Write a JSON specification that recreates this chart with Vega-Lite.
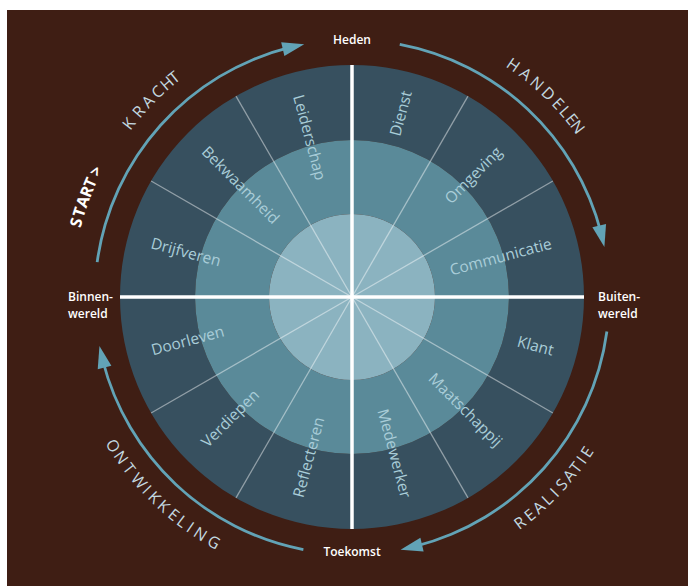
{
  "$schema": "https://vega.github.io/schema/vega-lite/v6.json",
  "width": 688,
  "height": 586,
  "autosize": {"type": "none"},
  "padding": 0,
  "background": "white",
  "config": {"view": {"stroke": null}},
  "resolve": {"scale": {"angle": "independent", "color": "independent"}},
  "layer": [
    {
      "data": {"values": [{"x0": -345, "x1": 336, "y0": -289, "y1": 287}]},
      "mark": {"type": "rect", "color": "#3f1e14"},
      "encoding": {
        "x": {"field": "x0", "type": "quantitative", "scale": {"domain": [-352, 336], "nice": false, "zero": false}, "axis": null},
        "x2": {"field": "x1"},
        "y": {"field": "y0", "type": "quantitative", "scale": {"domain": [-289, 297], "nice": false, "zero": false}, "axis": null},
        "y2": {"field": "y1"}
      }
    },
    {
      "data": {"values": [
        {"ring": "outer", "r0": 157, "r1": 232, "t0": 0, "t1": 360},
        {"ring": "middle", "r0": 83, "r1": 157, "t0": 0, "t1": 360},
        {"ring": "inner", "r0": 0, "r1": 83, "t0": 0, "t1": 360}
      ]},
      "mark": {"type": "arc"},
      "encoding": {
        "x": {"datum": 0, "type": "quantitative"},
        "y": {"datum": 0, "type": "quantitative"},
        "theta": {"field": "t0", "type": "quantitative", "stack": null, "scale": {"type": "linear", "domain": [0, 360], "range": [0, 6.283185307179586]}},
        "theta2": {"field": "t1"},
        "radius": {"field": "r1", "type": "quantitative", "scale": {"type": "linear", "domain": [0, 400], "range": [0, 400], "zero": true, "nice": false}},
        "radius2": {"field": "r0"},
        "color": {"field": "ring", "type": "nominal", "legend": null, "scale": {"domain": ["outer", "middle", "inner"], "range": ["#37505f", "#5a8a99", "#8bb3c0"]}}
      }
    },
    {
      "data": {"values": [
        {"x0": 0, "y0": 0, "x1": 116, "y1": 200.9},
        {"x0": 0, "y0": 0, "x1": 200.9, "y1": 116},
        {"x0": 0, "y0": 0, "x1": 200.9, "y1": -116},
        {"x0": 0, "y0": 0, "x1": 116, "y1": -200.9},
        {"x0": 0, "y0": 0, "x1": -116, "y1": -200.9},
        {"x0": 0, "y0": 0, "x1": -200.9, "y1": -116},
        {"x0": 0, "y0": 0, "x1": -200.9, "y1": 116},
        {"x0": 0, "y0": 0, "x1": -116, "y1": 200.9}
      ]},
      "mark": {"type": "rule", "color": "#ffffff", "opacity": 0.45, "strokeWidth": 1.3},
      "encoding": {
        "x": {"field": "x0", "type": "quantitative"},
        "y": {"field": "y0", "type": "quantitative"},
        "x2": {"field": "x1"},
        "y2": {"field": "y1"}
      }
    },
    {
      "data": {"values": [
        {"x0": 0, "y0": -232, "x1": 0, "y1": 232},
        {"x0": -232, "y0": 0, "x1": 232, "y1": 0}
      ]},
      "mark": {"type": "rule", "color": "#ffffff", "strokeWidth": 3.5},
      "encoding": {
        "x": {"field": "x0", "type": "quantitative"},
        "y": {"field": "y0", "type": "quantitative"},
        "x2": {"field": "x1"},
        "y2": {"field": "y1"}
      }
    },
    {
      "data": {"values": [
        {"t0": 277.8, "t1": 346.0},
        {"t0": 10.7, "t1": 75.5},
        {"t0": 97.7, "t1": 165.8},
        {"t0": 190.9, "t1": 255.7}
      ]},
      "mark": {"type": "arc", "color": "#62a3b6"},
      "encoding": {
        "x": {"datum": 0, "type": "quantitative"},
        "y": {"datum": 0, "type": "quantitative"},
        "theta": {"field": "t0", "type": "quantitative", "stack": null, "scale": {"type": "linear", "domain": [0, 360], "range": [0, 6.283185307179586]}},
        "theta2": {"field": "t1"},
        "radius": {"datum": 258.6, "type": "quantitative"},
        "radius2": {"datum": 255.8}
      }
    },
    {
      "data": {"values": [
        {"x": -58.5, "y": 250.3, "deg": 346.85},
        {"x": 249.8, "y": 60.7, "deg": 76.35},
        {"x": 59.3, "y": -250.1, "deg": 166.65},
        {"x": -250.0, "y": -59.8, "deg": 256.55}
      ]},
      "mark": {"type": "point", "shape": "M1,0L-1,-0.64L-1,0.64Z", "filled": true, "size": 484, "color": "#62a3b6", "opacity": 1, "strokeWidth": 0},
      "encoding": {
        "x": {"field": "x", "type": "quantitative"},
        "y": {"field": "y", "type": "quantitative"},
        "angle": {"field": "deg", "type": "quantitative", "scale": null}
      }
    },
    {
      "data": {"values": [
        {"label": "Dienst", "deg": 15, "r": 190},
        {"label": "Omgeving", "deg": 45, "r": 172},
        {"label": "Communicatie", "deg": 75, "r": 154},
        {"label": "Klant", "deg": 105, "r": 190},
        {"label": "Maatschappij", "deg": 135, "r": 160},
        {"label": "Medewerker", "deg": 165, "r": 162}
      ]},
      "mark": {"type": "text", "font": "Open Sans", "fontSize": 15.5, "color": "#a9cdd8", "align": "center", "baseline": "middle"},
      "encoding": {
        "x": {"datum": 0, "type": "quantitative"},
        "y": {"datum": 0, "type": "quantitative"},
        "theta": {"field": "deg", "type": "quantitative", "scale": {"type": "linear", "domain": [0, 360], "range": [0, 6.283185307179586]}},
        "radius": {"field": "r", "type": "quantitative"},
        "angle": {"field": "deg", "type": "quantitative", "scale": {"domain": [0, 180], "range": [-90, 90]}},
        "text": {"field": "label"}
      }
    },
    {
      "data": {"values": [
        {"label": "Reflecteren", "deg": 195, "r": 166},
        {"label": "Verdiepen", "deg": 225, "r": 172},
        {"label": "Doorleven", "deg": 255, "r": 170},
        {"label": "Drijfveren", "deg": 285, "r": 172},
        {"label": "Bekwaamheid", "deg": 315, "r": 158},
        {"label": "Leiderschap", "deg": 345, "r": 165}
      ]},
      "mark": {"type": "text", "font": "Open Sans", "fontSize": 15.5, "color": "#a9cdd8", "align": "center", "baseline": "middle"},
      "encoding": {
        "x": {"datum": 0, "type": "quantitative"},
        "y": {"datum": 0, "type": "quantitative"},
        "theta": {"field": "deg", "type": "quantitative", "scale": {"type": "linear", "domain": [0, 360], "range": [0, 6.283185307179586]}},
        "radius": {"field": "r", "type": "quantitative"},
        "angle": {"field": "deg", "type": "quantitative", "scale": {"domain": [180, 360], "range": [-90, 90]}},
        "text": {"field": "label"}
      }
    },
    {
      "data": {"values": [
        {"ch": "K", "deg": 307.8}, {"ch": "R", "deg": 311.0}, {"ch": "A", "deg": 313.8},
        {"ch": "C", "deg": 316.5}, {"ch": "H", "deg": 319.1}, {"ch": "T", "deg": 321.0},
        {"ch": "H", "deg": 34.8}, {"ch": "A", "deg": 37.9}, {"ch": "N", "deg": 40.9},
        {"ch": "D", "deg": 44.0}, {"ch": "E", "deg": 46.8}, {"ch": "L", "deg": 49.0},
        {"ch": "E", "deg": 51.0}, {"ch": "N", "deg": 53.0}
      ]},
      "mark": {"type": "text", "font": "Open Sans", "fontSize": 16, "fontWeight": 500, "color": "#c3d9e0", "align": "center", "baseline": "middle"},
      "encoding": {
        "x": {"datum": 0, "type": "quantitative"},
        "y": {"datum": 0, "type": "quantitative"},
        "theta": {"field": "deg", "type": "quantitative", "scale": {"type": "linear", "domain": [0, 360], "range": [0, 6.283185307179586]}},
        "radius": {"datum": 282, "type": "quantitative"},
        "angle": {"field": "deg", "type": "quantitative", "scale": {"domain": [0, 360], "range": [0, 360]}},
        "text": {"field": "ch"}
      }
    },
    {
      "data": {"values": [
        {"ch": "S", "deg": 285.1}, {"ch": "T", "deg": 287.3}, {"ch": "A", "deg": 289.5},
        {"ch": "R", "deg": 291.7}, {"ch": "T", "deg": 293.6}, {"ch": ">", "deg": 296.2}
      ]},
      "mark": {"type": "text", "font": "Open Sans", "fontSize": 16, "fontWeight": "bold", "color": "#ffffff", "align": "center", "baseline": "middle"},
      "encoding": {
        "x": {"datum": 0, "type": "quantitative"},
        "y": {"datum": 0, "type": "quantitative"},
        "theta": {"field": "deg", "type": "quantitative", "scale": {"type": "linear", "domain": [0, 360], "range": [0, 6.283185307179586]}},
        "radius": {"datum": 285, "type": "quantitative"},
        "angle": {"field": "deg", "type": "quantitative", "scale": {"domain": [0, 360], "range": [0, 360]}},
        "text": {"field": "ch"}
      }
    },
    {
      "data": {"values": [
        {"ch": "R", "deg": 143.4}, {"ch": "E", "deg": 140.8}, {"ch": "A", "deg": 138.4},
        {"ch": "L", "deg": 136.0}, {"ch": "I", "deg": 134.0}, {"ch": "S", "deg": 131.8},
        {"ch": "A", "deg": 129.4}, {"ch": "T", "deg": 127.3}, {"ch": "I", "deg": 125.4},
        {"ch": "E", "deg": 123.4},
        {"ch": "O", "deg": 238.1}, {"ch": "N", "deg": 235.2}, {"ch": "T", "deg": 232.4},
        {"ch": "W", "deg": 229.2}, {"ch": "I", "deg": 226.8}, {"ch": "K", "deg": 224.6},
        {"ch": "K", "deg": 222.0}, {"ch": "E", "deg": 219.3}, {"ch": "L", "deg": 217.1},
        {"ch": "I", "deg": 215.1}, {"ch": "N", "deg": 212.6}, {"ch": "G", "deg": 209.4}
      ]},
      "mark": {"type": "text", "font": "Open Sans", "fontSize": 16, "fontWeight": 500, "color": "#c3d9e0", "align": "center", "baseline": "middle"},
      "encoding": {
        "x": {"datum": 0, "type": "quantitative"},
        "y": {"datum": 0, "type": "quantitative"},
        "theta": {"field": "deg", "type": "quantitative", "scale": {"type": "linear", "domain": [0, 360], "range": [0, 6.283185307179586]}},
        "radius": {"datum": 282, "type": "quantitative"},
        "angle": {"field": "deg", "type": "quantitative", "scale": {"domain": [90, 270], "range": [-90, 90]}},
        "text": {"field": "ch"}
      }
    },
    {
      "data": {"values": [
        {"label": "Heden", "deg": 0, "r": 257},
        {"label": "Toekomst", "deg": 180, "r": 255}
      ]},
      "mark": {"type": "text", "font": "Open Sans", "fontSize": 12, "fontWeight": 600, "color": "#ffffff", "align": "center", "baseline": "middle"},
      "encoding": {
        "x": {"datum": 0, "type": "quantitative"},
        "y": {"datum": 0, "type": "quantitative"},
        "theta": {"field": "deg", "type": "quantitative", "scale": {"type": "linear", "domain": [0, 360], "range": [0, 6.283185307179586]}},
        "radius": {"field": "r", "type": "quantitative"},
        "text": {"field": "label"}
      }
    },
    {
      "data": {"values": [
        {"label": "Binnen-\nwereld", "deg": 270, "r": 284},
        {"label": "Buiten-\nwereld", "deg": 90, "r": 246}
      ]},
      "mark": {"type": "text", "font": "Open Sans", "fontSize": 12, "fontWeight": 600, "color": "#ffffff", "align": "left", "baseline": "middle", "lineBreak": "\n", "lineHeight": 17},
      "encoding": {
        "x": {"datum": 0, "type": "quantitative"},
        "y": {"datum": 0, "type": "quantitative"},
        "theta": {"field": "deg", "type": "quantitative", "scale": {"type": "linear", "domain": [0, 360], "range": [0, 6.283185307179586]}},
        "radius": {"field": "r", "type": "quantitative"},
        "text": {"field": "label"}
      }
    }
  ]
}
